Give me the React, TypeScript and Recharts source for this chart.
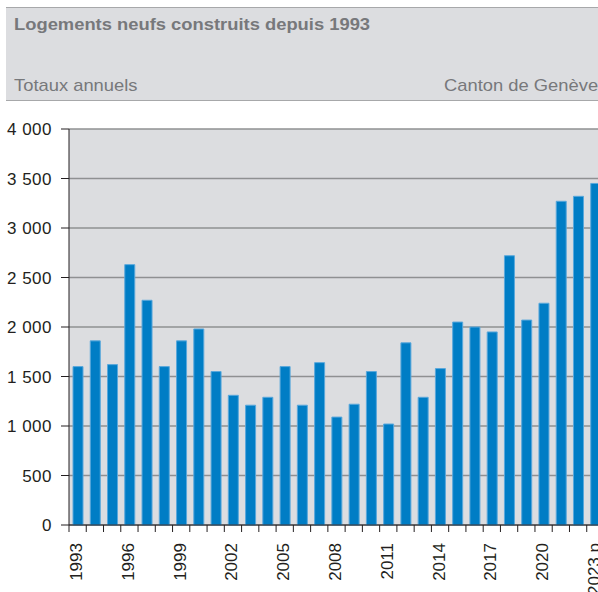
import { BarChart, Bar, XAxis, YAxis, CartesianGrid } from 'recharts';

const years = [
  '1993', '1994', '1995', '1996', '1997', '1998', '1999', '2000', '2001', '2002',
  '2003', '2004', '2005', '2006', '2007', '2008', '2009', '2010', '2011', '2012',
  '2013', '2014', '2015', '2016', '2017', '2018', '2019', '2020', '2021', '2022',
  '2023 p',
];
const logements = [
  1600, 1860, 1620, 2630, 2270, 1600, 1860, 1980, 1550, 1310,
  1210, 1290, 1600, 1210, 1640, 1090, 1220, 1550, 1020, 1840,
  1290, 1580, 2050, 2000, 1950, 2720, 2070, 2240, 3270, 3320,
  3450,
];
const yTicks = [0, 500, 1000, 1500, 2000, 2500, 3000, 3500, 4000];

const data = years.map((year, i) => ({ year, value: logements[i] }));

const CHART_W = 604;
const Y_W = 69;
const BAND = (CHART_W - Y_W) / years.length;
const FONT = '"Liberation Sans", Arial, sans-serif';

const fmt = (v: number) => String(v).replace(/\B(?=(\d{3})+(?!\d))/g, ' ');

// ticks sit on the category boundaries, labels every 3rd year
function YearTick(props: any) {
  const { x, y, payload, index } = props;
  const left = x - BAND / 2;
  return (
    <g>
      <line x1={left} y1={y - 8} x2={left} y2={y - 1} stroke="#231f20" strokeWidth={1} />
      {index % 3 === 0 && (
        <text
          x={x - 1}
          y={y + 10}
          transform={`rotate(-90, ${x - 1}, ${y + 10})`}
          textAnchor="end"
          dominantBaseline="central"
          fontSize={17}
          fontFamily={FONT}
          fill="#231f20"
        >
          {payload.value}
        </text>
      )}
    </g>
  );
}

const headText = { position: 'absolute' as const, fontSize: 17, transform: 'scaleX(1.08)', transformOrigin: 'left center', whiteSpace: 'nowrap' as const };

export default function App() {
  return (
    <div style={{ position: 'absolute', left: 0, top: 0, width: 598, height: 592, overflow: 'hidden', background: '#fff' }}>
      <div
        style={{
          position: 'absolute',
          left: 6,
          top: 7,
          width: 620,
          height: 92,
          background: '#dcdde0',
          borderTop: '1px solid #a7a8aa',
          borderBottom: '1px solid #a7a8aa',
          fontFamily: FONT,
          color: '#77787b',
        }}
      >
        <div style={{ ...headText, left: 8, top: 7, fontWeight: 'bold' }}>
          Logements neufs construits depuis 1993
        </div>
        <div style={{ ...headText, left: 8, top: 68 }}>Totaux annuels</div>
        <div style={{ ...headText, left: 438, top: 68 }}>Canton de Genève</div>
      </div>
      <div style={{ position: 'absolute', left: 0, top: 0 }}>
        <BarChart
          width={CHART_W}
          height={600}
          data={data}
          margin={{ top: 129, right: 0, left: 0, bottom: 0 }}
          barSize={10}
        >
          <CartesianGrid vertical={false} fill="#dcdde0" fillOpacity={1} stroke="#8f9092" strokeWidth={1.3} />
          <XAxis
            dataKey="year"
            interval={0}
            height={75}
            axisLine={{ stroke: '#231f20' }}
            tickLine={false}
            tick={<YearTick />}
          />
          <YAxis
            width={Y_W}
            domain={[0, 4000]}
            ticks={yTicks}
            interval={0}
            tickFormatter={fmt}
            axisLine={{ stroke: '#231f20' }}
            tickLine={{ stroke: '#231f20' }}
            tickSize={8}
            tickMargin={9}
            tick={{ fontSize: 17, fontFamily: FONT, fill: '#231f20', letterSpacing: 0.5 }}
          />
          <Bar dataKey="value" fill="#007dc5" stroke="#5aa8dc" strokeWidth={1} isAnimationActive={false} />
        </BarChart>
      </div>
    </div>
  );
}
